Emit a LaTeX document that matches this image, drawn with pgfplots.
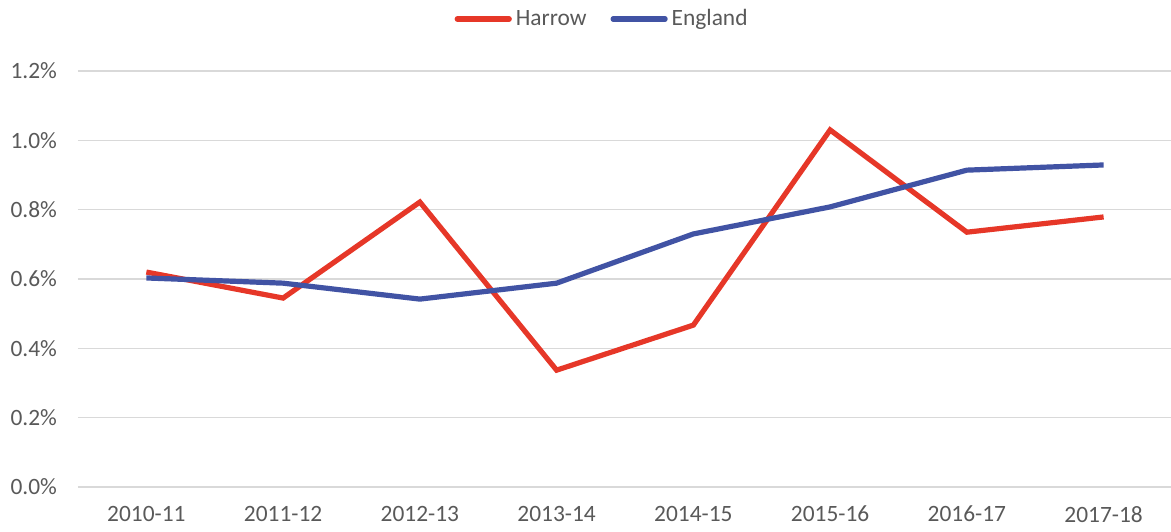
\documentclass[border=0pt]{standalone}
\usepackage{pgfplots}
\pgfplotsset{compat=1.18}
\usepackage{fontspec}
\setmainfont{Carlito}
\definecolor{hred}{RGB}{230,55,40}
\definecolor{eblue}{RGB}{65,83,164}
\definecolor{gridc}{RGB}{217,217,217}
\definecolor{txt}{RGB}{89,89,89}
\begin{document}
\begin{tikzpicture}
\useasboundingbox (-39bp,-22.5bp) rectangle (546.5bp,243.5bp);
\begin{axis}[
  at={(0,0)}, anchor=south west,
  scale only axis, width=547bp, height=208bp,
  xmin=-0.5, xmax=7.5, ymin=0, ymax=1.2,
  xtick={0,...,7},
  xticklabels={2010-11,2011-12,2012-13,2013-14,2014-15,2015-16,2016-17,2017-18},
  ytick={0,0.2,0.4,0.6,0.8,1.0,1.2},
  yticklabel={\pgfmathprintnumber[fixed,fixed zerofill,precision=1]{\tick}\%},
  /pgf/number format/assume math mode=true,
  ymajorgrids, major grid style={gridc, line width=0.75bp},
  axis line style={draw=none},
  major tick length=0pt,
  tick label style={font=\fontsize{11.7bp}{14bp}\selectfont, text=txt},
  yticklabel style={xshift=-7bp},
  xticklabel style={yshift=-6bp},
  legend style={draw=none, fill=none, at={(0.48,1.0)}, anchor=center, yshift=26bp,
    font=\fontsize{11.7bp}{14bp}\selectfont, text=txt, legend columns=2,
    /tikz/every even column/.append style={column sep=10bp}},
  legend image code/.code={\draw[#1, line cap=round] (0bp,0bp) -- (26bp,0bp);},
  clip=false,
]
\addplot[hred, line width=2.6bp] coordinates {
(0,0.620) (1,0.545) (2,0.822) (3,0.337) (4,0.467) (5,1.030) (6,0.735) (7,0.779)};
\addlegendentry{Harrow}
\addplot[eblue, line width=2.6bp] coordinates {
(0,0.603) (1,0.588) (2,0.542) (3,0.588) (4,0.730) (5,0.808) (6,0.914) (7,0.929)};
\addlegendentry{England}
\end{axis}
\end{tikzpicture}
\end{document}
